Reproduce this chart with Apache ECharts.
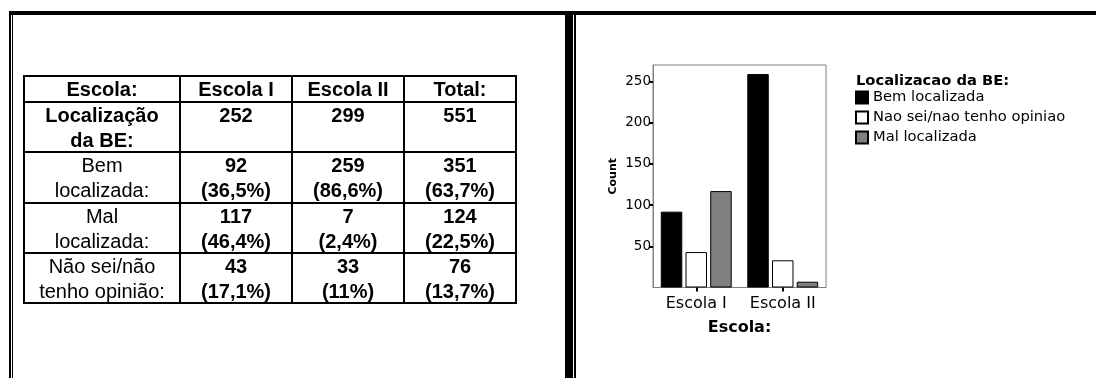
<!DOCTYPE html>
<html>
<head>
<meta charset="utf-8">
<script src="https://cdn.jsdelivr.net/npm/echarts@6/dist/echarts.min.js"></script>
<style>
  html, body { margin:0; padding:0; background:#fff; }
  body { width:1096px; height:378px; position:relative; overflow:hidden; }
  #chart { position:absolute; left:0; top:0; width:1096px; height:378px; z-index:0; }
  .bar { position:absolute; background:#000; z-index:2; }
  .cell { position:absolute; text-align:center; font-family:"Liberation Sans", Arial, sans-serif;
          font-size:20px; line-height:25px; color:#000; z-index:2; white-space:nowrap; }
  .b { font-weight:bold; }
</style>
</head>
<body>
<div id="chart"></div>
<div id="frame"></div>
<div id="table"></div>
<script>
// ---------- data ----------
const tableHeader = ['Escola:', 'Escola I', 'Escola II', 'Total:'];
const rowLabels = [['Localização', 'da BE:'], ['Bem', 'localizada:'], ['Mal', 'localizada:'], ['Não sei/não', 'tenho opinião:']];
const tableCounts = [[252, 299, 551], [92, 259, 351], [117, 7, 124], [43, 33, 76]];
const tablePercents = [null, ['36,5%', '86,6%', '63,7%'], ['46,4%', '2,4%', '22,5%'], ['17,1%', '11%', '13,7%']];

const schools = ['Escola I', 'Escola II'];
const seriesNames = ['Bem localizada', 'Nao sei/nao tenho opiniao', 'Mal localizada'];
const bemValues = [92, 259];
const naoSeiValues = [43, 33];
const malValues = [117, 7];
const yTickValues = [50, 100, 150, 200, 250];
const legendTitle = 'Localizacao da BE:';
const xAxisName = 'Escola:';
const yAxisName = 'Count';

// ---------- frame lines ----------
const frame = document.getElementById('frame');
function bar(l, t, w, h) {
  const d = document.createElement('div');
  d.className = 'bar';
  d.style.left = l + 'px'; d.style.top = t + 'px'; d.style.width = w + 'px'; d.style.height = h + 'px';
  frame.appendChild(d);
}
bar(9, 11, 1087, 4);      // top
bar(9, 11, 2, 367);       // left outer
bar(12, 15, 1, 363);      // left inner
bar(565, 11, 8, 367);     // middle thick
bar(574, 15, 2, 363);     // middle thin

// ---------- table ----------
const colLines = [24, 180, 292, 404, 516];
const rowLines = [76, 102, 152, 203, 253, 303];
const tbl = document.getElementById('table');
function tline(l, t, w, h) {
  const d = document.createElement('div');
  d.className = 'bar';
  d.style.left = l + 'px'; d.style.top = t + 'px'; d.style.width = w + 'px'; d.style.height = h + 'px';
  tbl.appendChild(d);
}
rowLines.forEach(y => tline(colLines[0] - 1, y - 1, colLines[colLines.length - 1] - colLines[0] + 2, 2));
colLines.forEach(x => tline(x - 1, rowLines[0] - 1, 2, rowLines[rowLines.length - 1] - rowLines[0] + 2));
function cell(ci, ri, lines, bold) {
  const d = document.createElement('div');
  d.className = 'cell' + (bold ? ' b' : '');
  d.style.left = (colLines[ci] + 1) + 'px';
  d.style.width = (colLines[ci + 1] - colLines[ci] - 2) + 'px';
  d.style.top = (rowLines[ri] + 1) + 'px';
  d.innerHTML = lines.join('<br>');
  tbl.appendChild(d);
}
tableHeader.forEach((h, i) => cell(i, 0, [h], true));
rowLabels.forEach((lab, r) => {
  cell(0, r + 1, lab, r === 0);
  tableCounts[r].forEach((v, c) => {
    const lines = [String(v)];
    if (tablePercents[r]) lines.push('(' + tablePercents[r][c] + ')');
    cell(c + 1, r + 1, lines, true);
  });
});

// ---------- chart ----------
const FONT = '"DejaVu Sans", sans-serif';
const chart = echarts.init(document.getElementById('chart'), null, { renderer: 'canvas' });
const barStyle = (color) => ({ color: color, borderColor: '#000', borderWidth: 1 });
chart.setOption({
  animation: false,
  backgroundColor: 'transparent',
  title: {
    text: legendTitle, left: 856, top: 74, padding: 0,
    textStyle: { fontFamily: FONT, fontSize: 14.7, fontWeight: 'bold', color: '#000' }
  },
  legend: {
    orient: 'vertical', left: 855, top: 90, padding: 0,
    itemWidth: 12, itemHeight: 12, itemGap: 5, icon: 'rect',
    textStyle: { fontFamily: FONT, fontSize: 14.7, color: '#000' },
    data: seriesNames
  },
  grid: {
    left: 653, right: 270, top: 65, bottom: 90.5,
    show: true, borderColor: '#808080', borderWidth: 1, backgroundColor: 'transparent'
  },
  xAxis: {
    type: 'category', data: schools,
    axisLine: { show: true, lineStyle: { color: '#808080', width: 1 } },
    axisTick: { show: true, alignWithLabel: true, length: 4, lineStyle: { color: '#000', width: 2 } },
    axisLabel: { fontFamily: FONT, fontSize: 16, color: '#000', margin: 8 },
    name: xAxisName, nameLocation: 'middle', nameGap: 32,
    nameTextStyle: { fontFamily: FONT, fontSize: 16, fontWeight: 'bold', color: '#000' }
  },
  yAxis: {
    type: 'value', min: 0, max: 270, interval: 50,
    axisLine: { show: true, lineStyle: { color: '#808080', width: 1 } },
    axisTick: { show: true, length: 4, lineStyle: { color: '#000', width: 2 }, customValues: yTickValues },
    axisLabel: { fontFamily: FONT, fontSize: 13.5, color: '#000', margin: 2, customValues: yTickValues },
    splitLine: { show: false },
    name: yAxisName, nameLocation: 'middle', nameGap: 34,
    nameTextStyle: { fontFamily: FONT, fontSize: 11, fontWeight: 'bold', color: '#000' }
  },
  series: [
    { name: seriesNames[0], type: 'bar', data: bemValues, itemStyle: barStyle('#000'), barGap: '15%', barCategoryGap: '18%' },
    { name: seriesNames[1], type: 'bar', data: naoSeiValues, itemStyle: barStyle('#fff') },
    { name: seriesNames[2], type: 'bar', data: malValues, itemStyle: barStyle('#808080') }
  ]
});
</script>
</body>
</html>
